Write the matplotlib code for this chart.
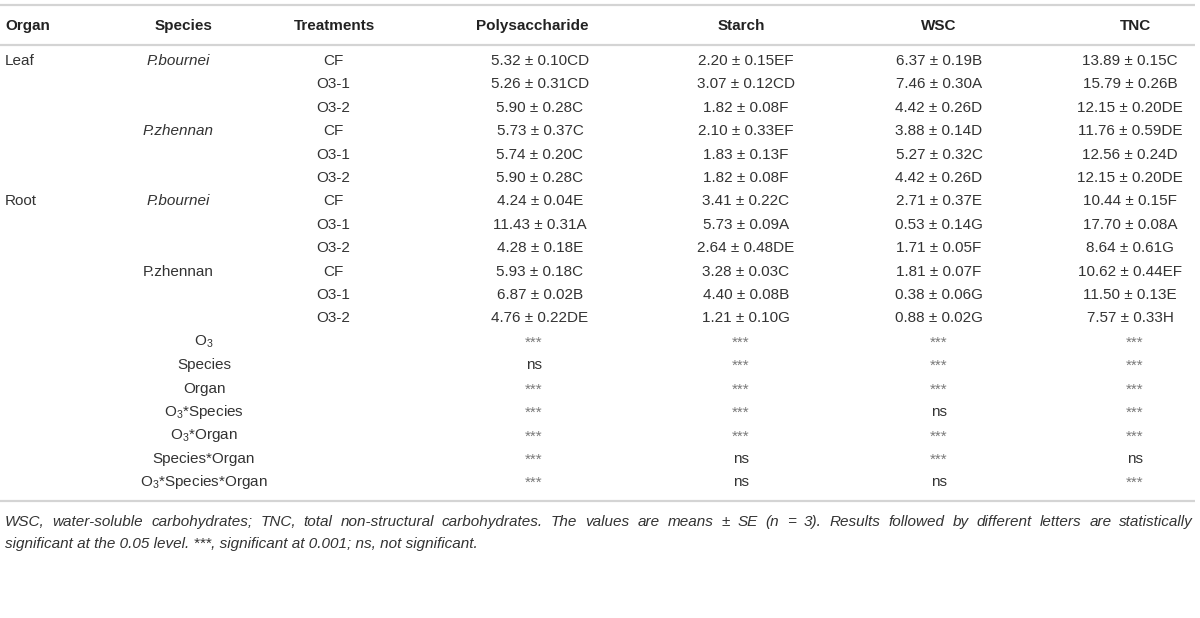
import matplotlib
matplotlib.use("Agg")
import matplotlib.pyplot as plt

plt.rcParams['font.family'] = ['Liberation Sans', 'DejaVu Sans']
plt.rcParams['mathtext.fontset'] = 'custom'
plt.rcParams['mathtext.rm'] = 'Liberation Sans'
plt.rcParams['mathtext.it'] = 'Liberation Sans:italic'

# table data
headers = ['Organ', 'Species', 'Treatments', 'Polysaccharide', 'Starch', 'WSC', 'TNC']
organs = ['Leaf', '', '', '', '', '', 'Root', '', '', '', '', '']
species = ['P.bournei', '', '', 'P.zhennan', '', '', 'P.bournei', '', '', 'P.zhennan', '', '']
species_italic = [True, False, False, True, False, False, True, False, False, False, False, False]
treatments = ['CF', 'O3-1', 'O3-2'] * 4

poly_mean = [5.32, 5.26, 5.90, 5.73, 5.74, 5.90, 4.24, 11.43, 4.28, 5.93, 6.87, 4.76]
poly_se = [0.10, 0.31, 0.28, 0.37, 0.20, 0.28, 0.04, 0.31, 0.18, 0.18, 0.02, 0.22]
poly_let = ['CD', 'CD', 'C', 'C', 'C', 'C', 'E', 'A', 'E', 'C', 'B', 'DE']

starch_mean = [2.20, 3.07, 1.82, 2.10, 1.83, 1.82, 3.41, 5.73, 2.64, 3.28, 4.40, 1.21]
starch_se = [0.15, 0.12, 0.08, 0.33, 0.13, 0.08, 0.22, 0.09, 0.48, 0.03, 0.08, 0.10]
starch_let = ['EF', 'CD', 'F', 'EF', 'F', 'F', 'C', 'A', 'DE', 'C', 'B', 'G']

wsc_mean = [6.37, 7.46, 4.42, 3.88, 5.27, 4.42, 2.71, 0.53, 1.71, 1.81, 0.38, 0.88]
wsc_se = [0.19, 0.30, 0.26, 0.14, 0.32, 0.26, 0.37, 0.14, 0.05, 0.07, 0.06, 0.02]
wsc_let = ['B', 'A', 'D', 'D', 'C', 'D', 'E', 'G', 'F', 'F', 'G', 'G']

tnc_mean = [13.89, 15.79, 12.15, 11.76, 12.56, 12.15, 10.44, 17.70, 8.64, 10.62, 11.50, 7.57]
tnc_se = [0.15, 0.26, 0.20, 0.59, 0.24, 0.20, 0.15, 0.08, 0.61, 0.44, 0.13, 0.33]
tnc_let = ['C', 'B', 'DE', 'DE', 'D', 'DE', 'F', 'A', 'G', 'EF', 'E', 'H']

effects = ['O$_3$', 'Species', 'Organ', 'O$_3$*Species', 'O$_3$*Organ',
           'Species*Organ', 'O$_3$*Species*Organ']
sig_poly = ['***', 'ns', '***', '***', '***', '***', '***']
sig_starch = ['***', '***', '***', '***', '***', 'ns', 'ns']
sig_wsc = ['***', '***', '***', 'ns', '***', '***', 'ns']
sig_tnc = ['***', '***', '***', '***', '***', 'ns', '***']

footnote = ["WSC, water-soluble carbohydrates; TNC, total non-structural carbohydrates. "
            "The values are means \u00b1 SE (n = 3). Results followed by different letters are statistically",
            "significant at the 0.05 level. ***, significant at 0.001; ns, not significant."]

# layout (pixel space)
W, H = 1200, 618
fig = plt.figure(figsize=(W / 100, H / 100), dpi=100)
ax = fig.add_axes([0, 0, 1, 1])
ax.set_xlim(0, W)
ax.set_ylim(H, 0)
ax.axis('off')

txt = '#333333'
line_c = '#d4d4d4'
fs = 11

header_x = [5, 184, 335, 532, 741, 939, 1135]
header_ha = ['left', 'center', 'center', 'center', 'center', 'center', 'center']
col_x = [540, 746, 939, 1130]
y_head = 26
y0, dy = 61, 23.4

ax.hlines([5, 45], 0, 1195, color=line_c, lw=1.6)
for h, x, ha in zip(headers, header_x, header_ha):
    ax.text(x, y_head, h, ha=ha, va='center', fontsize=11, fontweight='bold', color='#222222')

value_cols = [(poly_mean, poly_se, poly_let), (starch_mean, starch_se, starch_let),
              (wsc_mean, wsc_se, wsc_let), (tnc_mean, tnc_se, tnc_let)]

for i in range(len(treatments)):
    y = y0 + dy * i
    ax.text(5, y, organs[i], ha='left', va='center', fontsize=fs, color=txt)
    ax.text(178, y, species[i], ha='center', va='center', fontsize=fs, color=txt,
            style='italic' if species_italic[i] else 'normal')
    ax.text(333, y, treatments[i], ha='center', va='center', fontsize=fs, color=txt)
    for (m, s, l), x in zip(value_cols, col_x):
        ax.text(x, y, f"{m[i]:.2f} \u00b1 {s[i]:.2f}{l[i]}", ha='center', va='center',
                fontsize=fs, color=txt)

sig_cols = [sig_poly, sig_starch, sig_wsc, sig_tnc]
sig_x = [534, 741, 939, 1135]
for j, eff in enumerate(effects):
    y = y0 + dy * (len(treatments) + j)
    ax.text(204, y, eff, ha='center', va='center', fontsize=fs, color=txt)
    for col, x in zip(sig_cols, sig_x):
        v = col[j]
        if v == '***':
            ax.text(x, y + 1, v, ha='center', va='center', fontsize=fs, color='#7a7a7a')
        else:
            ax.text(x, y, v, ha='center', va='center', fontsize=fs, color=txt)

y_end = y0 + dy * (len(treatments) + len(effects) - 1)
ax.hlines(y_end + 19, 0, 1195, color=line_c, lw=1.6)

# footnote: first line justified to the table width, second line left aligned
renderer = fig.canvas.get_renderer()
words = footnote[0].split(' ')
widths = []
for w in words:
    t = ax.text(0, 0, w, fontsize=fs, style='italic')
    widths.append(t.get_window_extent(renderer).width)
    t.remove()
x_left, x_right = 5, 1193
gap = (x_right - x_left - sum(widths)) / (len(words) - 1)
x = x_left
for w, wd in zip(words, widths):
    ax.text(x, y_end + 40, w, ha='left', va='center', fontsize=fs, style='italic', color=txt)
    x += wd + gap
ax.text(5, y_end + 62, footnote[1], ha='left', va='center', fontsize=fs, style='italic', color=txt)

fig.savefig('out.png', dpi=100)
